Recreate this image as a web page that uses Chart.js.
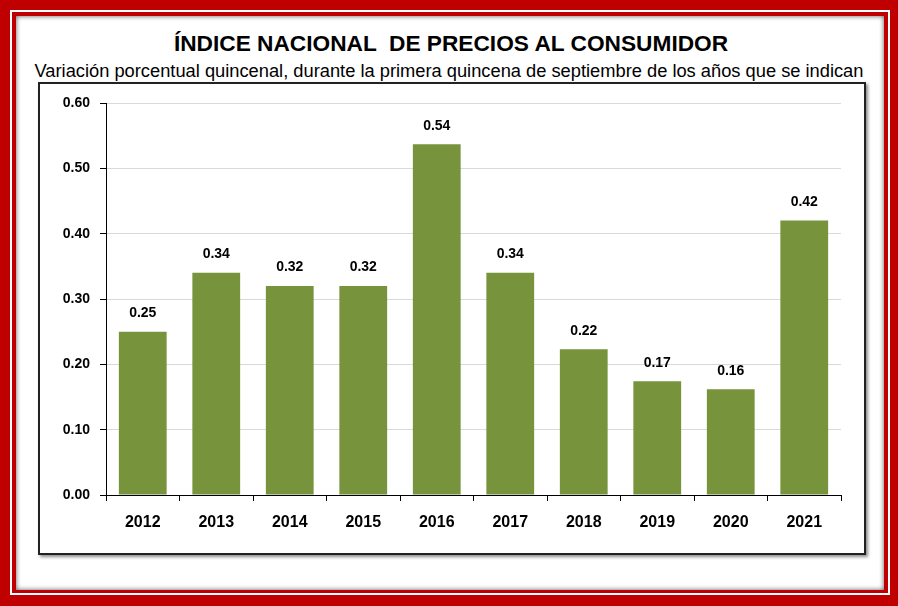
<!DOCTYPE html>
<html>
<head>
<meta charset="utf-8">
<script src="https://cdn.jsdelivr.net/npm/chart.js@4.4.0/dist/chart.umd.min.js"></script>
<style>
  body { margin: 0; width: 898px; height: 606px; position: relative; overflow: hidden; font-family: "Liberation Sans", Arial, sans-serif; }
  .layer { position: absolute; }
  #f1 { left: 0; top: 0; right: 0; bottom: 0; background: #c00000; }
  #f2 { left: 10px; top: 10px; right: 8px; bottom: 11px; background: #fff; }
  #f3 { left: 12px; top: 12px; right: 10px; bottom: 13px; background: #c00000; }
  #f4 { left: 16px; top: 16px; right: 14px; bottom: 16px; background: #fff; box-shadow: inset 0 0 5px rgba(0,0,0,0.65); }
  #box { left: 38px; top: 82px; width: 824px; height: 469px; border: 2px solid #222; box-shadow: 2px 2px 3px rgba(0,0,0,0.45); background: #fff; }
  #title { left: 2px; width: 898px; top: 30px; text-align: center; font-weight: bold; font-size: 22.7px; color: #000; white-space: pre; }
  #subtitle { left: 2px; width: 894px; top: 60px; text-align: center; font-size: 18.3px; color: #000; white-space: pre; }
  #chart { position: absolute; left: 0; top: 0; }
</style>
</head>
<body>
<div class="layer" id="f1"></div>
<div class="layer" id="f2"></div>
<div class="layer" id="f3"></div>
<div class="layer" id="f4"></div>
<div class="layer" id="box"></div>
<div class="layer" id="title">ÍNDICE NACIONAL  DE PRECIOS AL CONSUMIDOR</div>
<div class="layer" id="subtitle">Variación porcentual quincenal, durante la primera quincena de septiembre de los años que se indican</div>
<canvas id="chart" width="898" height="606"></canvas>
<script>
// data
const years = ['2012', '2013', '2014', '2015', '2016', '2017', '2018', '2019', '2020', '2021'];
const variacion = [0.25, 0.34, 0.32, 0.32, 0.537, 0.34, 0.223, 0.174, 0.162, 0.42];
const yTicks = [0, 0.1, 0.2, 0.3, 0.4, 0.5, 0.6];

// value labels above each bar
const barLabels = {
  id: 'barLabels',
  afterDatasetsDraw(chart) {
    const ctx = chart.ctx;
    const meta = chart.getDatasetMeta(0);
    ctx.save();
    ctx.font = 'bold 14px "Liberation Sans", Arial, sans-serif';
    ctx.fillStyle = '#000';
    ctx.textAlign = 'center';
    ctx.textBaseline = 'middle';
    meta.data.forEach(function(bar, i) {
      ctx.fillText(variacion[i].toFixed(2), bar.x, bar.y - 18.5);
    });
    ctx.restore();
  }
};

new Chart(document.getElementById('chart'), {
  type: 'bar',
  data: {
    labels: years,
    datasets: [{
      data: variacion,
      backgroundColor: '#77933c',
      barPercentage: 0.65,
      categoryPercentage: 1
    }]
  },
  options: {
    responsive: false,
    animation: false,
    devicePixelRatio: 1,
    layout: { padding: { left: 46, top: 103, right: 57, bottom: 71 } },
    plugins: { legend: { display: false }, tooltip: { enabled: false } },
    scales: {
      x: {
        afterFit: function(s) { s.height = 40; },
        grid: { offset: true, drawOnChartArea: false, drawTicks: true, tickLength: 6, tickColor: '#000' },
        border: { color: '#000', width: 1 },
        ticks: { color: '#000', padding: 12, font: { family: '"Liberation Sans", Arial', size: 16, weight: 'bold' } }
      },
      y: {
        min: 0,
        max: 0.6,
        afterFit: function(s) { s.width = 60; },
        afterBuildTicks: function(s) { s.ticks = yTicks.map(v => ({ value: v })); },
        grid: { color: '#d9d9d9', tickColor: '#000', tickLength: 6 },
        border: { color: '#000', width: 1 },
        ticks: {
          color: '#000', padding: 10,
          font: { family: '"Liberation Sans", Arial', size: 14, weight: 'bold' },
          callback: function(v) { return Number(v).toFixed(2); }
        }
      }
    }
  },
  plugins: [barLabels]
});
</script>
</body>
</html>
